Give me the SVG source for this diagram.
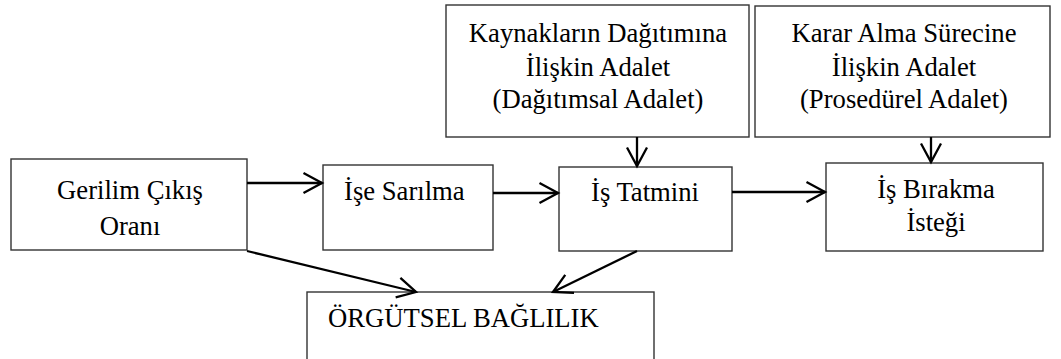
<svg xmlns="http://www.w3.org/2000/svg" width="1061" height="359" viewBox="0 0 1061 359">
  <style>
    .box { fill: #ffffff; stroke: #333333; stroke-width: 1.4; }
    .lbl { font-family: 'Liberation Serif', 'DejaVu Serif', 'Noto Serif', serif; font-size: 26.67px; fill: #000000; }
    .c { text-anchor: middle; }
    .edge { stroke: #000000; stroke-width: 2.3; fill: none; marker-end: url(#arr); }
  </style>
  <defs>
    <marker id="arr" markerUnits="userSpaceOnUse" viewBox="-22 -13 25 26" refX="0" refY="0" markerWidth="25" markerHeight="26" orient="auto">
      <path d="M -18.5 -10 L 0 0 L -18.5 10" fill="none" stroke="#000000" stroke-width="2.3" stroke-linejoin="miter"/>
    </marker>
  </defs>
  <rect width="1061" height="359" fill="#ffffff"/>

  <g id="node-gerilim">
    <rect class="box" x="11" y="159" width="236" height="91"/>
    <text class="lbl c" x="130" y="199" font-family="Liberation Serif, serif">Gerilim Çıkış</text>
    <text class="lbl c" x="130" y="235" font-family="Liberation Serif, serif">Oranı</text>
  </g>
  <g id="node-ise-sarilma">
    <rect class="box" x="323" y="165" width="170" height="85"/>
    <text class="lbl" x="344" y="200">İşe Sarılma</text>
  </g>
  <g id="node-is-tatmini">
    <rect class="box" x="559" y="167" width="173" height="84"/>
    <text class="lbl c" x="645" y="201">İş Tatmini</text>
  </g>
  <g id="node-is-birakma">
    <rect class="box" x="826" y="163" width="217" height="88"/>
    <text class="lbl c" x="936" y="198">İş Bırakma</text>
    <text class="lbl c" x="936" y="231">İsteği</text>
  </g>
  <g id="node-dagitimsal">
    <rect class="box" x="446" y="5" width="303" height="132"/>
    <text class="lbl c" x="598" y="42">Kaynakların Dağıtımına</text>
    <text class="lbl c" x="598" y="76">İlişkin Adalet</text>
    <text class="lbl c" x="598" y="108">(Dağıtımsal Adalet)</text>
  </g>
  <g id="node-prosedurel">
    <rect class="box" x="755" y="6" width="295" height="131"/>
    <text class="lbl c" x="904" y="42">Karar Alma Sürecine</text>
    <text class="lbl c" x="904" y="76">İlişkin Adalet</text>
    <text class="lbl c" x="904" y="108">(Prosedürel Adalet)</text>
  </g>
  <g id="node-orgutsel">
    <rect class="box" x="307" y="292" width="347" height="80"/>
    <text class="lbl" x="328" y="327">ÖRGÜTSEL BAĞLILIK</text>
  </g>

  <g id="connectors">
    <line class="edge" x1="247" y1="183" x2="322" y2="183"/>
    <line class="edge" x1="493" y1="193" x2="558" y2="193"/>
    <line class="edge" x1="732" y1="192" x2="825" y2="192"/>
    <line class="edge" x1="637" y1="137" x2="637" y2="166"/>
    <line class="edge" x1="931" y1="137" x2="931" y2="162"/>
    <line class="edge" x1="247" y1="251" x2="416" y2="292"/>
    <line class="edge" x1="637" y1="251" x2="553" y2="292"/>
  </g>
</svg>
